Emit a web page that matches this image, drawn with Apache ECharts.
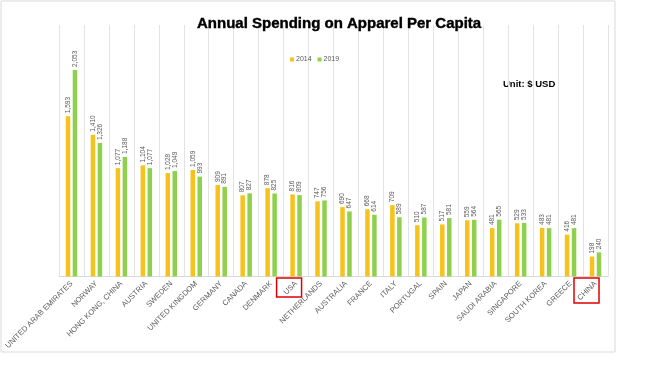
<!DOCTYPE html>
<html>
<head>
<meta charset="utf-8">
<script src="https://cdn.jsdelivr.net/npm/echarts@6/dist/echarts.min.js"></script>
<style>
html,body{margin:0;padding:0;background:#fff;}
#main{width:651px;height:366px;}
</style>
</head>
<body>
<div id="main"></div>
<script>
const categories = ['UNITED ARAB EMIRATES','NORWAY','HONG KONG, CHINA','AUSTRIA','SWEDEN','UNITED KINGDOM','GERMANY','CANADA','DENMARK','USA','NETHERLANDS','AUSTRALIA','FRANCE','ITALY','PORTUGAL','SPAIN','JAPAN','SAUDI ARABIA','SINGAPORE','SOUTH KOREA','GREECE','CHINA'];
const values2014 = [1593,1410,1077,1104,1028,1059,909,807,878,816,747,690,668,709,510,517,559,481,529,483,416,198];
const values2019 = [2053,1326,1188,1077,1049,993,891,827,825,809,756,647,614,589,587,581,564,565,533,481,481,240];
const seriesNames = ['2014','2019'];
const highlighted = ['USA','CHINA'];

function fmt(v){ return String(v).replace(/\B(?=(\d{3})+(?!\d))/g, ','); }

const chart = echarts.init(document.getElementById('main'), null, {renderer:'canvas'});
const labelStyle = {
  show:true, position:'top', rotate:90, align:'left', verticalAlign:'middle',
  distance:3, fontSize:6.5, color:'#595959', fontFamily:'Liberation Sans, Arial, sans-serif',
  formatter: p => fmt(p.value)
};
chart.setOption({
  animation:false,
  backgroundColor:'#fff',
  title:{
    text:'Annual Spending on Apparel Per Capita',
    left:192, top:11,
    textStyle:{fontSize:15, fontWeight:'bold', color:'#000', fontFamily:'Liberation Sans, Arial, sans-serif',
      textBorderColor:'#000', textBorderWidth:0.4}
  },
  legend:{
    data:seriesNames, top:51, left:285,
    itemWidth:4, itemHeight:4, itemGap:6,
    icon:'rect',
    textStyle:{fontSize:7, color:'#595959', fontFamily:'Liberation Sans, Arial, sans-serif', padding:[0,0,0,-3]}
  },
  grid:{left:59, right:43, top:25, bottom:89.5, containLabel:false},
  xAxis:{
    type:'category', data:categories,
    axisLine:{show:true, lineStyle:{color:'#D9D9D9'}},
    axisTick:{show:false},
    splitLine:{show:true, interval:0, lineStyle:{color:'#E3E3E3'}},
    axisLabel:{interval:0, rotate:45, fontSize:7.6, color:'#595959', margin:6,
      fontFamily:'Liberation Sans, Arial, sans-serif'}
  },
  yAxis:{type:'value', min:0, max:2500, show:false, splitLine:{show:false}},
  series:[
    {name:seriesNames[0], type:'bar', data:values2014, barWidth:4.5, barGap:'55%',
     itemStyle:{color:'#F6C21B'}, label:labelStyle},
    {name:seriesNames[1], type:'bar', data:values2019, barWidth:4.5, barGap:'55%',
     itemStyle:{color:'#8FD14F'}, label:labelStyle}
  ],
  graphic:[
    {type:'rect', shape:{x:1, y:1, width:614, height:351}, style:{fill:null, stroke:'#D9D9D9', lineWidth:1}, silent:true, z:-1},
    {type:'text', left:503, top:79, style:{text:'Unit: $ USD', font:'bold 9.5px "Liberation Sans", Arial, sans-serif', fill:'#000'}}
  ]
});

// red annotation boxes around highlighted category labels, positioned from the axis scale
const baseY = chart.convertToPixel({yAxisIndex:0}, 0);
const boxes = highlighted.map(name => {
  const cx = chart.convertToPixel({xAxisIndex:0}, name);
  const isChina = name === 'CHINA';
  return {type:'rect', shape:{x:cx - (isChina ? 21.5 : 19.5), y:baseY + 1.5, width:25, height: isChina ? 25 : 19},
    style:{fill:null, stroke:'#E00000', lineWidth:1.5}, silent:true};
});
chart.setOption({graphic: chart.getOption().graphic[0].elements.concat(boxes)});
</script>
</body>
</html>
